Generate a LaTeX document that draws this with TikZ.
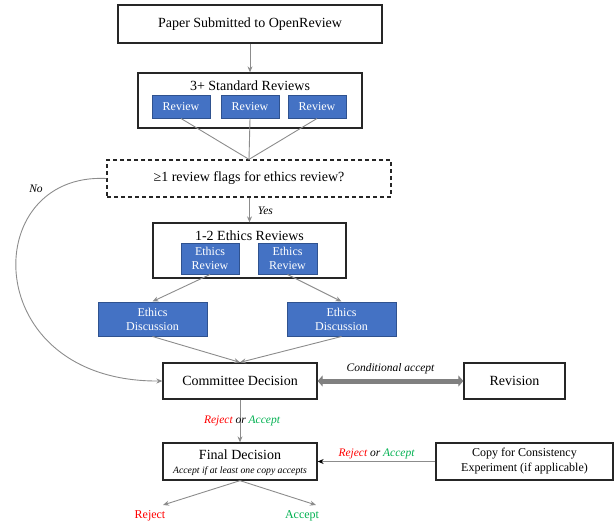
\documentclass[tikz,border=0pt]{standalone}
\usepackage{fontspec}
\setmainfont{Liberation Serif}
\usetikzlibrary{arrows.meta}
\definecolor{bfill}{HTML}{4472C4}
\definecolor{bdraw}{HTML}{2F528F}
\definecolor{lgray}{HTML}{8C8C8C}
\definecolor{rred}{HTML}{FF0000}
\definecolor{ggreen}{HTML}{00B050}
\tikzset{
  box/.style={draw=black!85, line width=1.3pt, fill=white, inner sep=0pt, align=center, font=\fontsize{14}{16}\selectfont},
  bluebox/.style={draw=bdraw, line width=1pt, fill=bfill, text=white, inner sep=0pt, align=center, font=\fontsize{12}{14}\selectfont},
  conn/.style={draw=lgray, line width=0.9pt},
  arr/.style={conn, -{Stealth[length=6pt,width=5pt]}},
  lbl/.style={font=\itshape\fontsize{11.5}{13}\selectfont, inner sep=0pt},
  title/.style={font=\fontsize{14}{16}\selectfont, inner sep=0pt},
}
\begin{document}
\begin{tikzpicture}[x=1pt,y=-1pt]
\useasboundingbox (0,0) rectangle (616,527);
% top
\node[box, minimum width=264pt, minimum height=38pt] (paper) at (250,24) {Paper Submitted to OpenReview};
\node[box, minimum width=224pt, minimum height=55pt] (std) at (250,100.5) {};
\node[title] (stdt) at (250,86) {3+ Standard Reviews};
\node[bluebox, minimum width=58pt, minimum height=23pt] (r1) at (181,106.5) {Review};
\node[bluebox, minimum width=58pt, minimum height=23pt] (r2) at (250,106.5) {Review};
\node[bluebox, minimum width=58pt, minimum height=23pt] (r3) at (317,106.5) {Review};
\node[box, dash pattern=on 4pt off 3pt, minimum width=284pt, minimum height=37pt] (flag) at (249,178.5) {≥1 review flags for ethics review?};
\node[box, minimum width=193pt, minimum height=55pt] (eth) at (249.5,250.5) {};
\node[title] (etht) at (249.5,236) {1-2 Ethics Reviews};
\node[bluebox, minimum width=58pt, minimum height=31pt] (e1) at (210,258.5) {Ethics\\Review};
\node[bluebox, minimum width=59pt, minimum height=31pt] (e2) at (287.5,258.5) {Ethics\\Review};
\node[bluebox, minimum width=109pt, minimum height=34pt] (d1) at (152.5,319) {Ethics\\Discussion};
\node[bluebox, minimum width=109pt, minimum height=34pt] (d2) at (341.5,319) {Ethics\\Discussion};
\node[box, minimum width=154pt, minimum height=36pt] (comm) at (240,381) {Committee Decision};
\node[box, minimum width=101pt, minimum height=36pt] (rev) at (514.5,381) {Revision};
\node[box, minimum width=154pt, minimum height=37pt] (fin) at (240,461.5) {};
\node[title] (fint) at (240,455) {Final Decision};
\node[font=\itshape\fontsize{9.7}{11}\selectfont, inner sep=0pt] (fins) at (240,471) {Accept if at least one copy accepts};
\node[box, font=\fontsize{12}{15}\selectfont, minimum width=177pt, minimum height=37pt] (copy) at (524.5,461.5) {Copy for Consistency\\Experiment (if applicable)};
\coordinate (rj) at (163,505);
\coordinate (ac) at (316,505);
\node[text=rred, font=\fontsize{12}{13}\selectfont, inner sep=0pt] (rjt) at (150,516) {Reject};
\node[text=ggreen, font=\fontsize{12}{13}\selectfont, inner sep=0pt] (act) at (302,516) {Accept};
% connectors
\draw[arr] (paper.south) -- (std.north);
\draw[conn] (r1.south) -- (flag.north);
\draw[conn] (r2.south) -- (flag.north);
\draw[conn] (r3.south) -- (flag.north);
\draw[arr] (flag.south -| eth.north) -- (eth.north) node[lbl, pos=0.55, right=8pt] {Yes};
\draw[arr] (e1.south) -- (d1.north);
\draw[arr] (e2.south) -- (d2.north);
\draw[arr] (d1.south) -- (comm.north);
\draw[arr] (d2.south) -- (comm.north);
\draw[arr] (flag.west) .. controls (-22,172) and (-22,382) .. (comm.west);
\node[lbl] (no) at (36,189) {No};
\draw[draw=gray, line width=5pt, {Triangle[length=5pt,width=11pt]}-{Triangle[length=5pt,width=11pt]}] (comm.east) -- (rev.west) node[lbl, midway, above=5pt] {Conditional accept};
\draw[arr] (comm.south) -- (fin.north) node[lbl, pos=0.5, anchor=center, xshift=2pt] {\textcolor{rred}{Reject} or \textcolor{ggreen}{Accept}};
\draw[conn, -{Stealth[length=6pt,width=5pt,color=black]}] (copy.west) -- (fin.east) node[lbl, midway, above=2pt] {\textcolor{rred}{Reject} or \textcolor{ggreen}{Accept}};
\draw[arr] (fin.south) -- (rj);
\draw[arr] (fin.south) -- (ac);
\end{tikzpicture}
\end{document}
